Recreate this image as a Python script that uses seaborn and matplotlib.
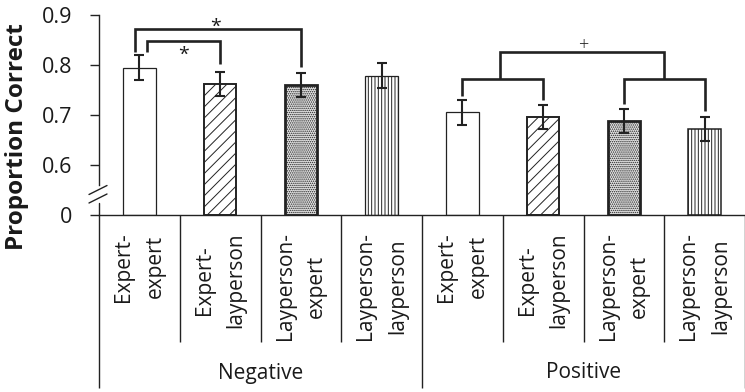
import numpy as np
import pandas as pd
import matplotlib
matplotlib.use('Agg')
import matplotlib.pyplot as plt
import matplotlib.transforms as mtransforms
import seaborn as sns

# ---------------- data ----------------
groups = ['Negative', 'Positive']
conditions = ['Expert-\nexpert', 'Expert-\nlayperson', 'Layperson-\nexpert', 'Layperson-\nlayperson']
neg_values = [0.795, 0.763, 0.760, 0.779]
pos_values = [0.706, 0.697, 0.689, 0.672]
neg_errors = [0.024, 0.024, 0.024, 0.025]
pos_errors = [0.025, 0.024, 0.024, 0.024]
y_ticks = [0, 0.6, 0.7, 0.8, 0.9]
y_ticklabels = ['0', '0.6', '0.7', '0.8', '0.9']
y_label = 'Proportion Correct'

# ---------------- style ----------------
sns.set_theme(style='white')
plt.rcParams['font.family'] = ['Open Sans', 'DejaVu Sans']
plt.rcParams['hatch.linewidth'] = 0.7
INK = '#222222'
TXT = '#1a1a1a'

df = pd.DataFrame({
    'group': np.repeat(groups, len(conditions)),
    'condition': conditions * len(groups),
    'value': neg_values + pos_values,
    'err': neg_errors + pos_errors,
})
df['pos'] = np.arange(len(df))

fig, ax = plt.subplots(figsize=(7.45, 3.92), dpi=100)
ax.set_position([99 / 745, 177 / 392, 646 / 745, 200 / 392])

# broken axis: 0..0.6 compressed into the bottom 0.1 of the axis
def fwd(v):
    v = np.asarray(v, dtype=float)
    return np.where(v >= 0.6, v, 0.5 + v / 6.0)

def inv(s):
    s = np.asarray(s, dtype=float)
    return np.where(s >= 0.6, s, (s - 0.5) * 6.0)

ax.set_yscale('function', functions=(fwd, inv))

sns.barplot(data=df, x='pos', y='value', order=list(df['pos']), color='white',
            width=0.4, errorbar=None, edgecolor=INK, ax=ax)

hatches = ['', '///', '........', '|||||', '', '///', '........', '|||||']
faces = ['white', 'white', '#e4e4e4', 'white', 'white', 'white', '#e4e4e4', 'white']
edge_w = [0.9, 1.4, 2.0, 0.9, 0.9, 1.4, 2.0, 1.1]
for p, h, fc, lw in zip(ax.patches, hatches, faces, edge_w):
    p.set_hatch(h)
    p.set_facecolor(fc)
    p.set_edgecolor(INK)
    p.set_linewidth(lw)

ax.errorbar(df['pos'], df['value'], yerr=df['err'], fmt='none', ecolor=INK,
            elinewidth=1.5, capsize=3.4, capthick=1.5, zorder=5)

ax.set_ylim(0, 0.9)
ax.set_xlim(-0.5, 7.378)

# y axis
ax.set_yticks(y_ticks)
ax.set_yticklabels(y_ticklabels)
ax.tick_params(axis='y', which='major', direction='out', length=6.5, width=1.0,
               color=INK, labelsize=15.5, labelcolor=TXT, pad=13, left=True)
ax.set_ylabel(y_label, fontsize=17.5, fontweight='bold', color=TXT)
ax.yaxis.set_label_coords(-0.1084, 0.39)

for s in ['top', 'right']:
    ax.spines[s].set_visible(False)
for s in ['left', 'bottom']:
    ax.spines[s].set_color(INK)
    ax.spines[s].set_linewidth(1.0)
ax.spines['left'].set_bounds(0.36, 0.9)
ax.plot([-0.5, -0.5], [0, 0.144], color=INK, lw=1.0, clip_on=False, zorder=6)

# break marks
for yc in (190, 198.5):
    xs = [(89 - 99) / 646, (107 - 99) / 646]
    ys = [(215 - (yc + 4.5)) / 200, (215 - (yc - 4.5)) / 200]
    ax.plot(xs, ys, transform=ax.transAxes, color=INK, lw=1.0, clip_on=False)

# x axis: long separator ticks
ax.set_xticks([-0.5, 3.5, 7.5])
ax.set_xticklabels([])
ax.set_xticks([0.5, 1.5, 2.5, 4.5, 5.5, 6.5], minor=True)
ax.tick_params(axis='x', which='major', direction='out', length=124.6, width=1.0,
               color=INK, bottom=True)
ax.tick_params(axis='x', which='minor', direction='out', length=91.4, width=1.0,
               color=INK, bottom=True)
ax.set_xlabel('')

trans = mtransforms.blended_transform_factory(ax.transData, ax.transAxes)
for i, lab in enumerate(df['condition']):
    ax.text(i, -0.085, lab, transform=trans, rotation=90, ha='center', va='top',
            multialignment='center', fontsize=15, linespacing=1.65, color=TXT)
for gi, g in enumerate(groups):
    ax.text(1.5 + 4 * gi, -0.79, g, transform=trans, ha='center', va='center',
            fontsize=15, color=TXT)

# significance brackets
def bracket(x1, x2, ytop, yb1, yb2):
    ax.plot([x1, x1, x2, x2], [yb1, ytop, ytop, yb2], color=INK, lw=1.9,
            solid_joinstyle='miter', solid_capstyle='butt', clip_on=False, zorder=6)

bracket(-0.055, 2.0, 0.873, 0.827, 0.797)
bracket(0.09, 1.0, 0.849, 0.827, 0.803)
bracket(4.0, 5.0, 0.772, 0.739, 0.731)
bracket(6.0, 7.0, 0.772, 0.723, 0.708)
bracket(4.47, 6.5, 0.827, 0.772, 0.772)

ax.text(0.94, 0.866, '*', ha='center', va='baseline', fontsize=14, color=TXT)
ax.text(0.55, 0.810, '*', ha='center', va='baseline', fontsize=14, color=TXT)
ax.text(5.49, 0.831, '+', ha='center', va='baseline', fontsize=13,
        fontweight='light', color=TXT)

fig.savefig('out.png', dpi=100)
